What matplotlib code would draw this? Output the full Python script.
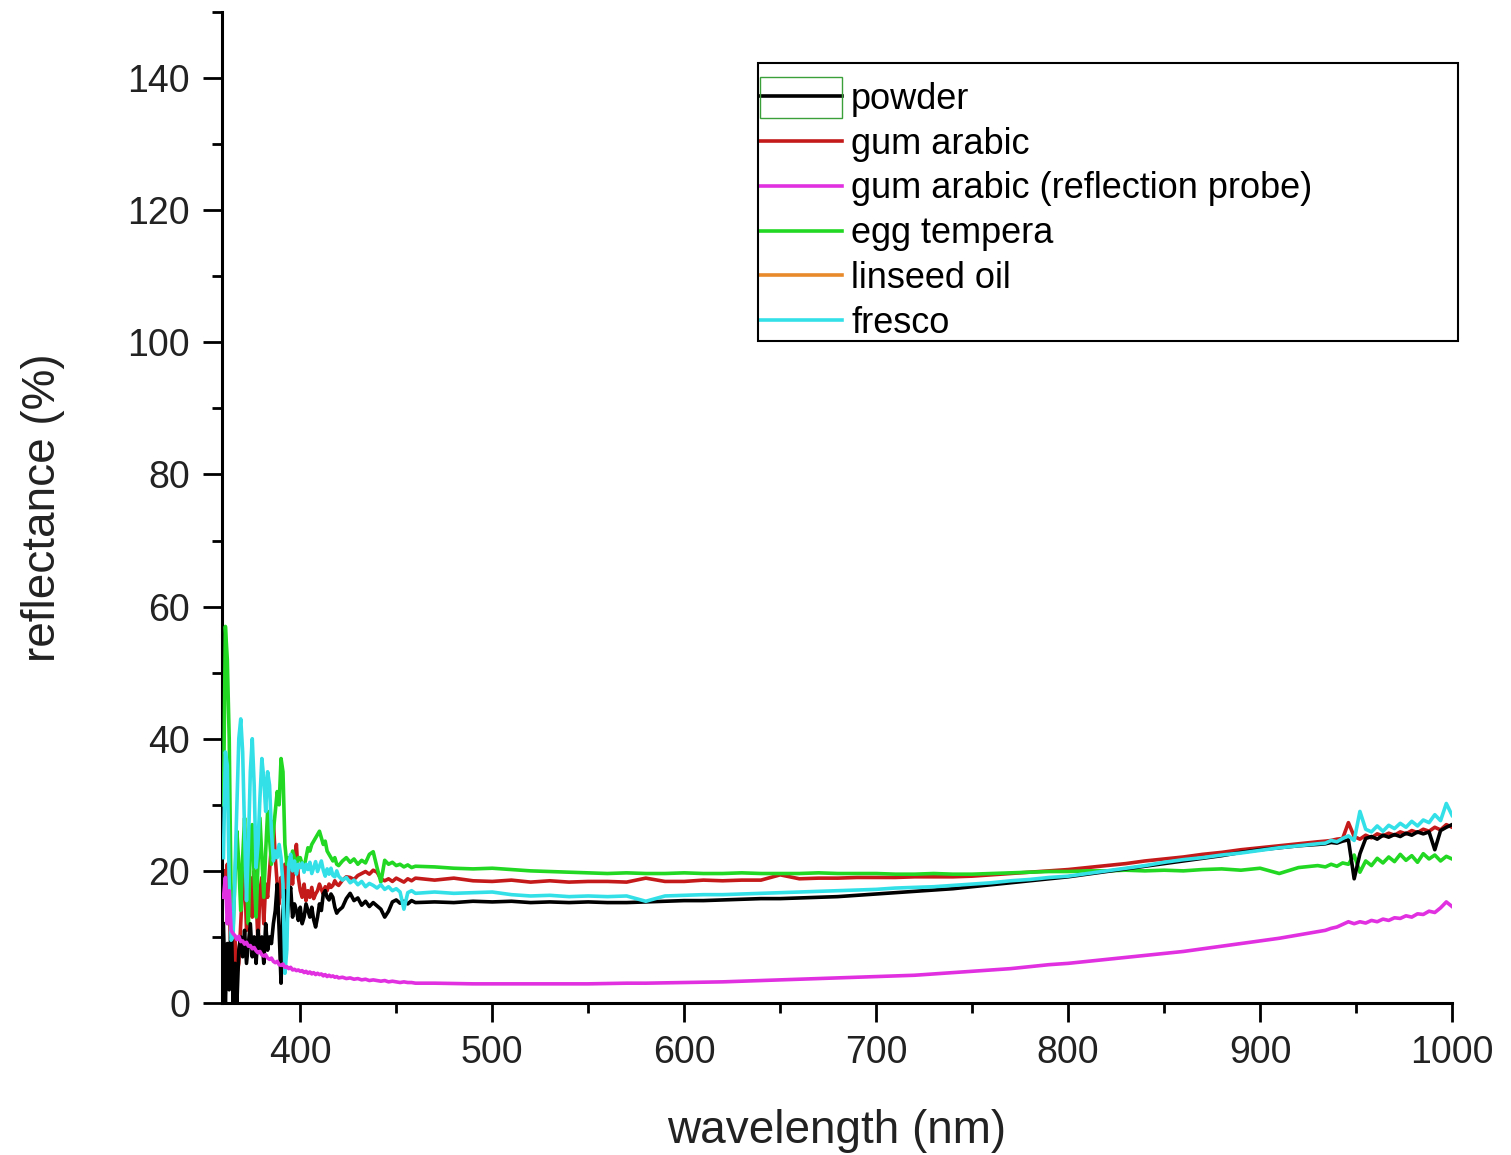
import matplotlib
matplotlib.use("Agg")
import matplotlib.pyplot as plt
from matplotlib.ticker import MultipleLocator
from matplotlib.patches import Rectangle

plt.rcParams['font.family'] = ['Liberation Sans', 'DejaVu Sans']

# ---- wavelength sampling (nm) ----
wavelength = [
    360, 361, 362, 363, 364, 365, 366, 367, 368, 369, 370, 371, 372, 373, 374, 375, 376, 377, 378, 379,
    380, 381, 382, 383, 384, 385, 386, 387, 388, 389, 390, 391, 392, 393, 394, 395, 396, 397, 398, 399,
    400, 401, 402, 403, 404, 405, 406, 407, 408, 409, 410, 411, 412, 413, 414, 415, 416, 417, 418, 419, 420,
    422, 424, 426, 428, 430, 432, 434, 436, 438, 440, 442, 444, 446, 448, 450, 452, 454, 456, 458, 460,
    470, 480, 490, 500, 510, 520, 530, 540, 550, 560, 570, 580, 590, 600, 610, 620, 630, 640, 650, 660,
    670, 680, 690, 700, 710, 720, 730, 740, 750, 760, 770, 780, 790, 800, 810, 820, 830, 840, 850, 860,
    870, 880, 890, 900, 910, 920, 930,
    934, 937, 940, 943, 946, 949, 952, 955, 958, 961, 964, 967, 970, 973, 976, 979, 982, 985, 988, 991,
    994, 997, 1000,
]

powder = [
    12, 0, 9, 2, 14, 0, 6, 0, 8, 10, 7, 11, 6, 9, 12, 7, 10, 6, 11, 8,
    10, 6, 12, 8, 10, 9, 12, 14, 18, 11, 3, 14, 17, 12, 16, 17.5, 13, 15, 14, 12.5,
    14.5, 12, 13, 15, 14, 13, 14.5, 12.6, 11.5, 13, 15, 14, 16.5, 17, 16, 15.6, 16.5, 16, 14.5, 13.6, 14,
    14.5, 15.8, 16.6, 15.5, 15.9, 14.8, 15.4, 14.6, 15.2, 14.7, 14.2, 13.0, 13.9, 15.3, 15.6, 15.1, 15.4, 15.0, 15.5, 15.2,
    15.3, 15.2, 15.4, 15.3, 15.4, 15.2, 15.3, 15.2, 15.3, 15.2, 15.2, 15.3, 15.4, 15.5, 15.5, 15.6, 15.7, 15.8, 15.8, 15.9,
    16.0, 16.1, 16.3, 16.5, 16.7, 16.9, 17.1, 17.3, 17.6, 17.9, 18.2, 18.5, 18.8, 19.1, 19.5, 19.9, 20.3, 20.7, 21.1, 21.5,
    21.9, 22.3, 22.8, 23.2, 23.5, 23.8, 24.0,
    24.1, 24.3, 24.2, 24.5, 24.7, 18.8, 22.6, 24.9, 25.2, 24.8, 25.4, 25.1, 25.5, 25.2, 25.7, 25.4, 25.9, 25.6, 25.9, 23.2,
    26.1, 26.6, 27.0,
]

gum_arabic = [
    20, 17, 21, 14, 8, 5, 10, 4.5, 6, 12, 18, 20, 11, 15, 19, 13, 20, 16, 9, 17,
    19, 12, 18, 16, 20, 24, 27.5, 22, 18, 15, 19, 16, 21, 14, 17, 21, 18, 22, 24, 19,
    17, 16, 18, 15.5, 17, 16, 17.5, 15.8, 16.5, 17, 18, 17.2, 16.5, 17.6, 17, 18, 17.5, 17.8, 18.5, 18, 17.8,
    18.6, 19.1, 19.0, 18.7, 19.3, 19.6, 19.9, 19.5, 20.1, 19.8, 18.8, 18.5, 18.8, 18.4, 18.9, 18.6, 18.3, 18.8, 18.5, 18.9,
    18.6, 18.9, 18.5, 18.4, 18.6, 18.3, 18.5, 18.3, 18.4, 18.4, 18.3, 18.9, 18.4, 18.4, 18.6, 18.5, 18.6, 18.6, 19.4, 18.8,
    18.9, 18.9, 19.0, 19.0, 19.0, 19.1, 19.1, 19.1, 19.2, 19.4, 19.6, 19.8, 20.0, 20.2, 20.5, 20.8, 21.1, 21.5, 21.8, 22.1,
    22.5, 22.8, 23.2, 23.5, 23.8, 24.1, 24.4,
    24.5, 24.6, 24.8, 24.9, 27.3, 25.2, 24.8, 25.4, 25.0, 25.6, 25.3, 25.7, 25.4, 25.9, 25.6, 26.1, 25.8, 26.3, 26.0, 26.6,
    26.2, 27.0, 26.6,
]

gum_arabic_probe = [
    16, 19, 12, 17, 11, 10.5, 10.2, 9.6, 10.1, 9.3, 9.4, 8.9, 9.2, 8.6, 8.7, 8.2, 8.4, 7.9, 7.6, 7.8,
    7.3, 7.1, 7.3, 6.8, 6.6, 6.8, 6.3, 6.1, 6.3, 5.8, 5.7, 5.9, 5.4, 5.5, 5.2, 5.4, 5.0, 5.1, 4.9, 5.0,
    4.8, 4.9, 4.6, 4.8, 4.5, 4.7, 4.4, 4.6, 4.3, 4.5, 4.3, 4.4, 4.1, 4.3, 4.0, 4.2, 4.0, 4.1, 3.9, 4.0, 3.8,
    3.9, 3.7, 3.8, 3.6, 3.7, 3.5, 3.6, 3.4, 3.5, 3.4, 3.3, 3.4, 3.2, 3.3, 3.2, 3.1, 3.2, 3.1, 3.1, 3.0,
    3.0, 2.95, 2.9, 2.9, 2.9, 2.9, 2.9, 2.9, 2.9, 2.95, 3.0, 3.0, 3.05, 3.1, 3.15, 3.2, 3.3, 3.4, 3.5, 3.6,
    3.7, 3.8, 3.9, 4.0, 4.1, 4.2, 4.4, 4.6, 4.8, 5.0, 5.2, 5.5, 5.8, 6.0, 6.3, 6.6, 6.9, 7.2, 7.5, 7.8,
    8.2, 8.6, 9.0, 9.4, 9.8, 10.3, 10.8,
    11.0, 11.3, 11.5, 11.9, 12.3, 12.0, 12.3, 12.1, 12.5, 12.3, 12.7, 12.5, 12.9, 12.8, 13.2, 13.0, 13.5, 13.4, 13.9, 13.7,
    14.4, 15.3, 14.6,
]

egg_tempera = [
    30, 57, 52, 40, 15, 11, 19, 26, 21, 14, 22, 28, 18, 12, 24, 27, 19, 13, 21, 28,
    22, 16, 23, 29, 25, 21, 26, 29, 32, 30, 37, 35, 24, 21, 22, 21, 23, 22, 21, 22,
    22, 21, 20.5, 22, 23.5, 23, 24, 24.5, 25, 25.5, 26, 25, 24, 24.5, 23, 22.5, 22, 21.5, 22, 21, 20.8,
    21.5, 22, 21.3, 21.8, 21, 21.6, 21.2, 22.5, 22.9, 20.5, 18.3, 21.6, 21, 21.3, 20.8, 21, 20.6, 20.9, 20.5, 20.7,
    20.6, 20.4, 20.3, 20.4, 20.2, 20.0, 19.9, 19.8, 19.7, 19.6, 19.7, 19.6, 19.6, 19.7, 19.6, 19.6, 19.7, 19.6, 19.6, 19.6,
    19.7, 19.6, 19.6, 19.6, 19.5, 19.5, 19.6, 19.5, 19.5, 19.6, 19.7, 19.8, 19.9, 19.9, 20.0, 20.0, 20.1, 20.0, 20.1, 20.0,
    20.2, 20.3, 20.1, 20.4, 19.6, 20.5, 20.8,
    20.6, 21.0, 20.7, 21.2, 21.0, 22.4, 19.8, 21.5, 20.8, 21.9, 21.2, 22.1, 21.4, 22.5, 21.6, 22.3, 21.3, 22.6, 21.8, 22.4,
    21.5, 22.2, 21.8,
]

linseed_oil = []  # not visible in the chart (legend entry only)

fresco = [
    22, 38, 36, 18, 9.5, 10, 20, 30, 40, 43, 38, 26, 15.5, 24, 35, 40, 33, 20.5, 24, 31,
    37, 34, 29, 35, 33, 26, 21.5, 23, 22, 24, 22, 18, 4.5, 8, 21, 22.5, 20, 21.5, 19.5, 21,
    20.5, 21.2, 19.8, 21, 20.2, 21.3, 19.6, 20.5, 21.4, 19.9, 20.7, 21.5, 20.1, 19.2, 20.3, 19.5, 20.4, 19.3, 19.1, 20, 19.2,
    18.6, 19.0, 18.2, 18.6, 17.9, 18.4, 17.6, 18.1, 17.8, 17.4, 17.9, 17.2, 17.6, 17.0, 17.3, 16.8, 14.2, 16.7, 17.0, 16.6,
    16.8, 16.6, 16.7, 16.8, 16.4, 16.2, 16.3, 16.1, 16.2, 16.1, 16.2, 15.4, 16.2, 16.3, 16.4, 16.4, 16.5, 16.6, 16.7, 16.8,
    16.9, 17.0, 17.1, 17.2, 17.4, 17.5, 17.6, 17.8, 18.0, 18.2, 18.5, 18.7, 19.0, 19.2, 19.6, 20.0, 20.4, 20.8, 21.3, 21.7,
    22.0, 22.4, 22.7, 23.1, 23.5, 23.8, 24.1,
    24.2, 24.6, 24.4, 24.9, 25.3, 24.6, 29.0, 26.3, 25.9, 26.8, 26.0, 26.9, 26.4, 27.2, 26.6, 27.5, 26.8, 27.7, 27.3, 28.5,
    27.6, 30.2, 28.4,
]

labels = ["powder", "gum arabic", "gum arabic (reflection probe)", "egg tempera", "linseed oil", "fresco"]
colors = ["#000000", "#c41a1a", "#e030e0", "#22d822", "#e88a2a", "#33e0e8"]

x_ticks = [400, 500, 600, 700, 800, 900, 1000]
y_ticks = [0, 20, 40, 60, 80, 100, 120, 140]

fig = plt.figure(figsize=(15.11, 11.55), dpi=100)
ax = fig.add_axes([0.147, 0.1316, 0.814, 0.858])

series = [powder, gum_arabic, gum_arabic_probe, egg_tempera, linseed_oil, fresco]
zorders = [4, 2, 6, 3, 1, 5]
handles = []
for data, lab, col, z in zip(series, labels, colors, zorders):
    if data:
        h, = ax.plot(wavelength, data, color=col, lw=2.6, label=lab, zorder=z)
    else:
        h, = ax.plot([], [], color=col, lw=2.6, label=lab, zorder=z)
    handles.append(h)

ax.set_xlim(359.3, 1000)
ax.set_ylim(0, 150)
ax.set_xticks(x_ticks)
ax.set_yticks(y_ticks)
ax.xaxis.set_minor_locator(MultipleLocator(50))
ax.yaxis.set_minor_locator(MultipleLocator(10))

for s in ["top", "right"]:
    ax.spines[s].set_visible(False)
for s in ["left", "bottom"]:
    ax.spines[s].set_linewidth(2.2)

ax.tick_params(axis="both", which="major", direction="out", length=14, width=2,
               labelsize=27, pad=9, labelcolor="#222222")
ax.tick_params(axis="both", which="minor", direction="out", length=7, width=2)

ax.set_xlabel("wavelength (nm)", fontsize=33, color="#222222")
ax.set_ylabel("reflectance (%)", fontsize=33, color="#222222")
ax.xaxis.set_label_coords(0.5, -0.107)
ax.yaxis.set_label_coords(-0.128, 0.5)

# legend (frame drawn separately)
leg = ax.legend(handles=handles, loc="upper left", bbox_to_anchor=(0.4374, 0.9294),
                fontsize=26, frameon=False, borderpad=0, borderaxespad=0,
                handlelength=2.27, handletextpad=0.25, labelspacing=0.27)
for line in leg.get_lines():
    line.set_linewidth(2.6)
ax.add_patch(Rectangle((0.4358, 0.668), 0.5691, 0.2805, transform=ax.transAxes,
                       fill=False, edgecolor="#000000", lw=1.5, clip_on=False, zorder=10))
# small green box around the first legend handle, as in the original
ax.add_patch(Rectangle((0.4374, 0.8930), 0.0667, 0.0414, transform=ax.transAxes,
                       fill=False, edgecolor="#3aa03a", lw=1.0, clip_on=False, zorder=10))

fig.savefig("out.png", dpi=100, facecolor="white")
